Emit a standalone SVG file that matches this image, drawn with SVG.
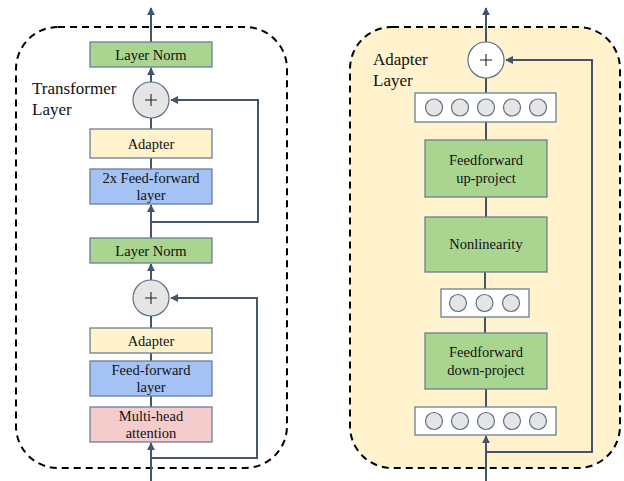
<svg xmlns="http://www.w3.org/2000/svg" width="624" height="481" viewBox="0 0 624 481">
<defs>
<marker id="ah" viewBox="0 0 10 10" refX="9" refY="5" markerWidth="4" markerHeight="4" orient="auto-start-reverse" markerUnits="strokeWidth">
<path d="M0,0 L10,5 L0,10 Z" fill="#44546A"/>
</marker>
<style>
.frame{fill:none;stroke:#000;stroke-width:2;stroke-dasharray:7,5}
.box{stroke:#6B7F94;stroke-width:1.3}
.green{fill:#A9D590}
.yellow{fill:#FFF2CC}
.blue{fill:#A4C2F4}
.pink{fill:#F4CCCC}
.wb{fill:#fff}
.neu{fill:#E5E5E5;stroke:#5C6F85;stroke-width:1.2}
.plus{stroke:#222;stroke-width:1.1}
.ln{fill:none;stroke:#44546A;stroke-width:2}
.t{font-size:14.5px;fill:#111;text-anchor:middle}
.lbl{font-size:17px;fill:#111}
</style>
</defs>

<g id="transformer-frame">
<rect class="frame" x="16" y="27" width="271" height="441" rx="42"/>
<text class="lbl" x="32" y="94" font-family="'Liberation Serif', 'Times New Roman', serif">Transformer</text>
<text class="lbl" x="32" y="115" font-family="'Liberation Serif', 'Times New Roman', serif">Layer</text>
</g>
<g id="adapter-frame">
<rect class="frame" x="350" y="27" width="270" height="441" rx="42" style="fill:#FFF2CC"/>
<text class="lbl" x="373" y="65" font-family="'Liberation Serif', 'Times New Roman', serif">Adapter</text>
<text class="lbl" x="373" y="86" font-family="'Liberation Serif', 'Times New Roman', serif">Layer</text>
</g>

<g id="connectors">
<path class="ln" d="M151,481 V443" marker-end="url(#ah)"/>
<path class="ln" d="M151,458 H257 V298 H171" marker-end="url(#ah)"/>
<path class="ln" d="M151,407 V396 M151,361 V353 M151,328 V316"/>
<path class="ln" d="M151,280 V264" marker-end="url(#ah)"/>
<path class="ln" d="M151,238 V205" marker-end="url(#ah)"/>
<path class="ln" d="M151,222 H258 V100 H171" marker-end="url(#ah)"/>
<path class="ln" d="M151,169 V158 M151,129 V118"/>
<path class="ln" d="M151,82 V68" marker-end="url(#ah)"/>
<path class="ln" d="M151,42 V8" marker-end="url(#ah)"/>
<path class="ln" d="M486,481 V436" marker-end="url(#ah)"/>
<path class="ln" d="M486,452 H592 V60 H506" marker-end="url(#ah)"/>
<path class="ln" d="M486,407 V389 M485,333 V317 M485,289 V272 M486,217 V197 M486,140 V122 M486,93 V78"/>
<path class="ln" d="M486,42 V8" marker-end="url(#ah)"/>
</g>

<g font-family="'Liberation Serif', 'Times New Roman', serif">
<g id="layernorm-top"><rect class="box green" x="90" y="42" width="122" height="25"/><text class="t" x="151" y="59.5">Layer Norm</text></g>
<g id="add-top"><circle class="neu" cx="151" cy="100" r="18"/><path class="plus" d="M145,100 H157 M151,94 V106"/></g>
<g id="adapter-top"><rect class="box yellow" x="90" y="129" width="122" height="29"/><text class="t" x="151" y="148.5">Adapter</text></g>
<g id="ff2x"><rect class="box blue" x="90" y="169" width="122" height="35"/><text class="t" x="151" y="183">2x Feed-forward</text><text class="t" x="151" y="200">layer</text></g>
<g id="layernorm-bottom"><rect class="box green" x="90" y="238" width="122" height="25"/><text class="t" x="151" y="255.5">Layer Norm</text></g>
<g id="add-bottom"><circle class="neu" cx="151" cy="298" r="18"/><path class="plus" d="M145,298 H157 M151,292 V304"/></g>
<g id="adapter-bottom"><rect class="box yellow" x="90" y="328" width="122" height="25"/><text class="t" x="151" y="345.5">Adapter</text></g>
<g id="ff"><rect class="box blue" x="90" y="361" width="122" height="35"/><text class="t" x="151" y="375">Feed-forward</text><text class="t" x="151" y="392">layer</text></g>
<g id="mha"><rect class="box pink" x="90" y="407" width="122" height="35"/><text class="t" x="151" y="421">Multi-head</text><text class="t" x="151" y="438">attention</text></g>

<g id="add-adapter"><circle class="neu" cx="486" cy="60" r="18" style="fill:#fff"/><path class="plus" d="M480,60 H492 M486,54 V66"/></g>
<g id="neurons-top"><rect class="box wb" x="415" y="93" width="141" height="29"/>
<circle class="neu" cx="434" cy="107.5" r="8.5"/><circle class="neu" cx="460" cy="107.5" r="8.5"/><circle class="neu" cx="486" cy="107.5" r="8.5"/><circle class="neu" cx="512" cy="107.5" r="8.5"/><circle class="neu" cx="538" cy="107.5" r="8.5"/></g>
<g id="ff-up"><rect class="box green" x="425" y="140" width="122" height="57"/><text class="t" x="486" y="165">Feedforward</text><text class="t" x="486" y="183">up-project</text></g>
<g id="nonlin"><rect class="box green" x="425" y="217" width="122" height="55"/><text class="t" x="486" y="249">Nonlinearity</text></g>
<g id="neurons-mid"><rect class="box wb" x="441" y="289" width="88" height="28"/>
<circle class="neu" cx="458" cy="303" r="8.5"/><circle class="neu" cx="484.5" cy="303" r="8.5"/><circle class="neu" cx="511" cy="303" r="8.5"/></g>
<g id="ff-down"><rect class="box green" x="425" y="333" width="122" height="56"/><text class="t" x="486" y="357">Feedforward</text><text class="t" x="486" y="375">down-project</text></g>
<g id="neurons-bottom"><rect class="box wb" x="415" y="407" width="141" height="28"/>
<circle class="neu" cx="434" cy="421" r="8.5"/><circle class="neu" cx="460" cy="421" r="8.5"/><circle class="neu" cx="486" cy="421" r="8.5"/><circle class="neu" cx="512" cy="421" r="8.5"/><circle class="neu" cx="538" cy="421" r="8.5"/></g>
</g>
</svg>
